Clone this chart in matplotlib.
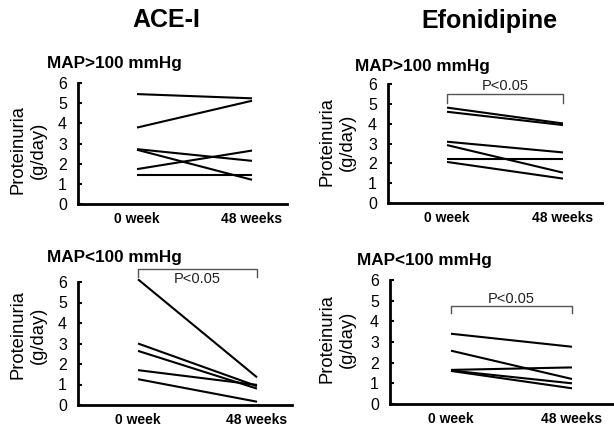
import matplotlib
matplotlib.use('Agg')
import matplotlib.pyplot as plt

plt.rcParams['font.family'] = ['Liberation Sans', 'DejaVu Sans']

# ---------------- data ----------------
time_labels = ['0 week', '48 weeks']
y_ticks = [0, 1, 2, 3, 4, 5, 6]
group_titles = ['ACE-I', 'Efonidipine']
subgroup_titles = ['MAP>100 mmHg', 'MAP>100 mmHg', 'MAP<100 mmHg', 'MAP<100 mmHg']
y_label = 'Proteinuria\n(g/day)'
p_text = 'P<0.05'

acei_high_0 = [5.45, 3.79, 2.72, 2.69, 1.73, 1.45]
acei_high_48 = [5.24, 5.12, 2.14, 1.20, 2.65, 1.45]

efo_high_0 = [4.81, 4.60, 3.09, 2.92, 2.24, 2.07]
efo_high_48 = [4.01, 3.93, 2.55, 1.53, 2.24, 1.23]

acei_low_0 = [6.13, 3.00, 2.64, 1.70, 1.26]
acei_low_48 = [1.35, 0.92, 0.80, 0.98, 0.16]

efo_low_0 = [3.40, 2.58, 1.65, 1.62, 1.60]
efo_low_48 = [2.77, 1.21, 1.77, 1.00, 0.76]

# ---------------- layout ----------------
W, H = 614, 430
fig = plt.figure(figsize=(W / 100, H / 100), dpi=100)


def fx(px):
    return px / W


def fy(py):
    return 1 - py / H


panels = [
    dict(v0=acei_high_0, v48=acei_high_48, yaxis_x=78, right=287, x0=137, x1=252,
         ybot=204, ytop=83, bracket=None,
         ylab=(28, 150), sub=(47, 68)),
    dict(v0=efo_high_0, v48=efo_high_48, yaxis_x=388, right=602, x0=447, x1=563,
         ybot=203, ytop=84, bracket=(5.50, 5.03, 5.90),
         ylab=(337, 142), sub=(355, 71)),
    dict(v0=acei_low_0, v48=acei_low_48, yaxis_x=78, right=292, x0=138, x1=257,
         ybot=405, ytop=282, bracket=(6.65, 6.24, 6.13),
         ylab=(28, 335), sub=(47, 262)),
    dict(v0=efo_low_0, v48=efo_low_48, yaxis_x=390, right=613, x0=451, x1=572,
         ybot=404, ytop=280, bracket=(4.74, 4.39, 5.10),
         ylab=(337, 339), sub=(357, 265)),
]

for i, p in enumerate(panels):
    left = fx(p['yaxis_x'])
    width = fx(p['right']) - left
    bottom = fy(p['ybot'])
    height = (p['ybot'] - p['ytop']) / H
    ax = fig.add_axes([left, bottom, width, height])
    unit = p['x1'] - p['x0']
    ax.set_xlim((p['yaxis_x'] - p['x0']) / unit, (p['right'] - p['x0']) / unit)
    ax.set_ylim(0, 6)

    for a, b in zip(p['v0'], p['v48']):
        ax.plot([0, 1], [a, b], color='black', lw=1.5, solid_capstyle='butt',
                clip_on=False)

    for s in ['top', 'right']:
        ax.spines[s].set_visible(False)
    for s in ['left', 'bottom']:
        ax.spines[s].set_linewidth(2.0)
        ax.spines[s].set_color('black')

    ax.set_yticks(y_ticks)
    ax.set_yticklabels([str(t) for t in y_ticks], fontsize=11.5)
    ax.set_xticks([0, 1])
    ax.set_xticklabels(time_labels, fontsize=10, fontweight='bold')
    ax.tick_params(axis='y', direction='in', length=3, width=1.5, pad=8)
    ax.tick_params(axis='x', length=0, pad=6)
    ax.set_facecolor('none')

    if p['bracket'] is not None:
        top, leg, ty = p['bracket']
        ax.plot([0, 0, 1, 1], [leg, top, top, leg], color='#555555', lw=1.0,
                clip_on=False)
        ax.text(0.5, ty, p_text, ha='center', va='center', fontsize=10.5,
                color='#222222', clip_on=False)

    lx, ly = p['ylab']
    fig.text(fx(lx), fy(ly), y_label, rotation=90, ha='center', va='center',
             fontsize=13.2, linespacing=1.25, multialignment='center')

    sx, sy = p['sub']
    fig.text(fx(sx), fy(sy), subgroup_titles[i], ha='left', va='baseline',
             fontsize=12.3, fontweight='bold')

fig.text(fx(166), fy(26.7), group_titles[0], ha='center', va='baseline',
         fontsize=18, fontweight='bold')
fig.text(fx(489), fy(28.3), group_titles[1], ha='center', va='baseline',
         fontsize=18, fontweight='bold')

fig.savefig('out.png', dpi=100, facecolor='white')
